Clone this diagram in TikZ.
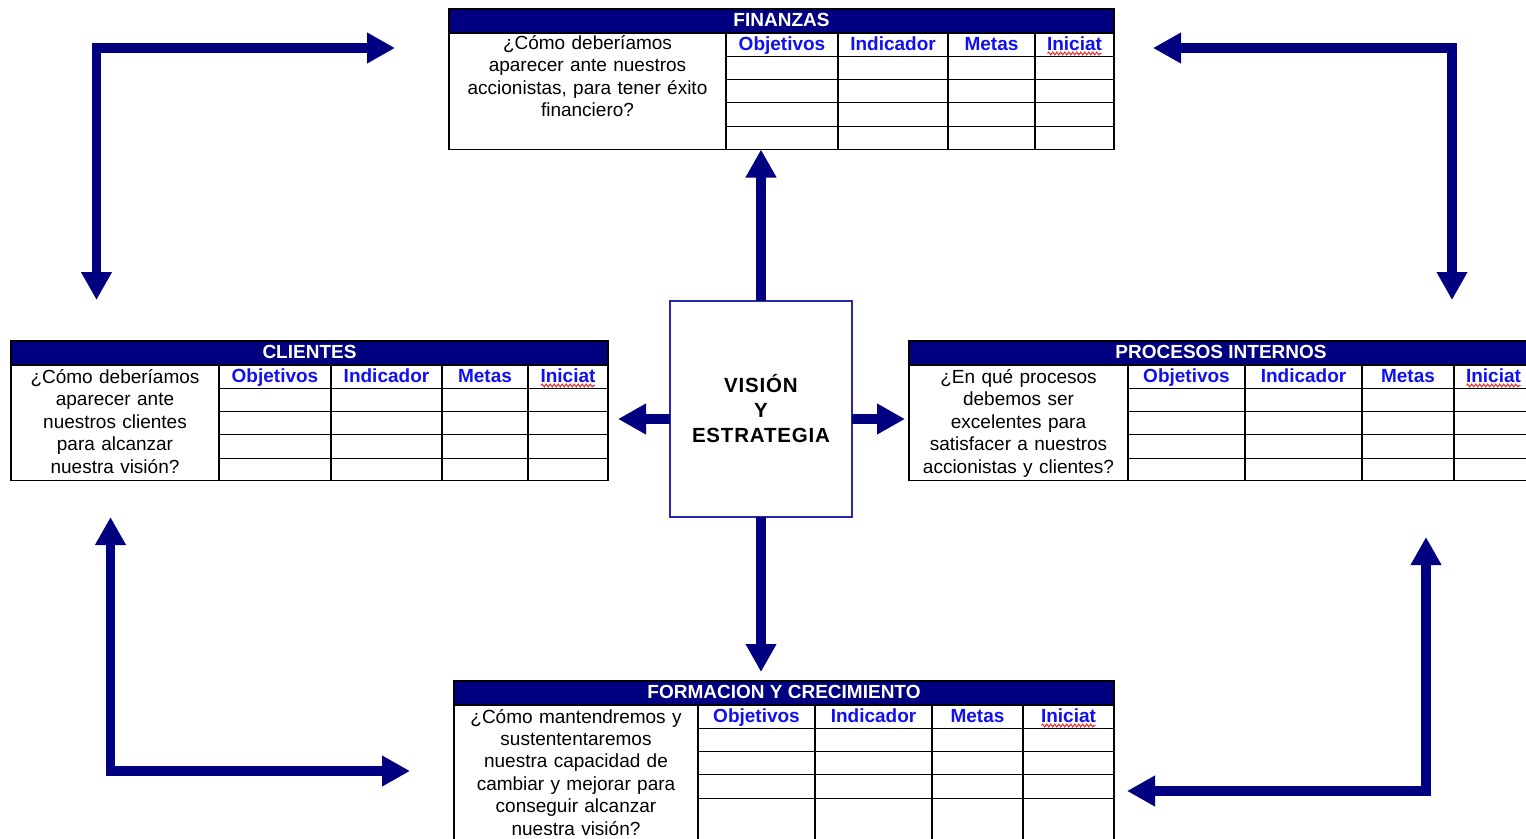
\documentclass[tikz,border=0pt]{standalone}
\usepackage{fontspec}
\setmainfont{Liberation Sans}
\usetikzlibrary{arrows.meta,decorations.pathmorphing}

\definecolor{navy}{RGB}{0,0,128}
\definecolor{headblue}{RGB}{16,16,240}
\definecolor{boxblue}{RGB}{40,40,170}
\definecolor{spellred}{RGB}{230,40,40}

\tikzset{
  tableframe/.style={draw=black, line width=1.1pt, fill=white, inner sep=0pt, outer sep=0pt},
  titlebar/.style={draw=black, line width=1.1pt, fill=navy, inner sep=0pt, outer sep=0pt, minimum height=24},
  grid line/.style={black, line width=1.1pt},
  headtext/.style={anchor=base, inner sep=0pt, text=headblue, font=\fontsize{19}{22}\selectfont\bfseries},
  titletext/.style={anchor=base, inner sep=0pt, text=white, font=\fontsize{19}{22}\selectfont\bfseries},
  bodytext/.style={anchor=base, inner sep=0pt, align=center, font=\fontsize{19}{22.4}\selectfont},
  spell/.style={spellred, line width=1pt, decorate, decoration={snake, amplitude=1.4pt, segment length=4pt}},
  visbox/.style={draw=boxblue, line width=1.3pt, fill=white, inner sep=0pt, outer sep=0pt,
    minimum width=182, minimum height=216, align=center,
    font=\fontsize{20.5}{25}\selectfont\bfseries\addfontfeature{LetterSpace=4}},
  big arrow/.style={navy, line width=9.5pt, -{Triangle[length=28pt,width=29pt]}},
  corner arrow/.style={big arrow, line cap=rect},
}

% #1 name, #2 left, #3 right, #4 top of title bar, #5 bottom,
% #6 text column edge, #7-#9 inner column edges
\newcommand\scoretable[9]{%
  \node[tableframe, minimum width={(#3)-(#2)}, minimum height={(#5)-(#4)}, anchor=north west] (#1) at (#2,#4) {};
  \node[titlebar, minimum width={(#3)-(#2)}, anchor=north west] (#1-title) at (#2,#4) {};
  \draw[grid line] (#6,#4+24) -- (#6,#5);
  \foreach \c in {#7,#8,#9} \draw[grid line] (\c,#4+24) -- (\c,#5);
  \foreach \r in {0,...,3} \draw[grid line] (#6,#4+47.3+\r*23.3) -- (#3,#4+47.3+\r*23.3);
  \node[headtext] (#1-h1) at ({(#6+#7)/2},#4+41) {Objetivos};
  \node[headtext] (#1-h2) at ({(#7+#8)/2},#4+41) {Indicador};
  \node[headtext] (#1-h3) at ({(#8+#9)/2},#4+41) {Metas};
  \node[headtext] (#1-h4) at ({(#9+#3)/2},#4+41) {Iniciat};
  \draw[spell] ([xshift=-27pt,yshift=-3.5pt]#1-h4.base) -- ([xshift=27pt,yshift=-3.5pt]#1-h4.base);
}

\begin{document}
\begin{tikzpicture}[x=1pt,y=-1pt]
\useasboundingbox (0,0) rectangle (1526,838);
\clip (0,0) rectangle (1526,838);
\fill[white] (0,0) rectangle (1526,838);

% the four perspective tables
\scoretable{fin}{449}{1114}{9}{149.5}{726}{838}{948}{1035}
\node[titletext] (fin-name) at ([yshift=7pt]fin-title.south) {FINANZAS};
\node[bodytext, text width=270] (fin-q) at (587.5,49.5)
  {¿Cómo deberíamos\\aparecer ante nuestros\\accionistas, para tener éxito\\financiero?};

\scoretable{cli}{11}{608}{341}{480.5}{219}{331}{442}{528}
\node[titletext] (cli-name) at ([yshift=7pt]cli-title.south) {CLIENTES};
\node[bodytext, text width=204] (cli-q) at (115,383.5)
  {¿Cómo deberíamos\\aparecer ante\\nuestros clientes\\para alcanzar\\nuestra visión?};

\scoretable{proc}{909}{1533}{341}{480.5}{1128}{1245}{1362}{1454}
\node[titletext] (proc-name) at ([yshift=7pt]proc-title.south) {PROCESOS INTERNOS};
\node[bodytext, text width=215] (proc-q) at (1018.5,383.5)
  {¿En qué procesos\\debemos ser\\excelentes para\\satisfacer a nuestros\\accionistas y clientes?};

\scoretable{form}{454}{1114}{681}{860}{698}{815}{932}{1023}
\node[titletext] (form-name) at ([yshift=7pt]form-title.south) {FORMACION Y CRECIMIENTO};
\node[bodytext, text width=240] (form-q) at (576,723)
  {¿Cómo mantendremos y\\sustententaremos\\nuestra capacidad de\\cambiar y mejorar para\\conseguir alcanzar\\nuestra visión?};

% vision and strategy at the centre
\node[visbox] (vis) at (761,409) {VISIÓN\\Y\\ESTRATEGIA};

\draw[big arrow] (vis.north) -- (vis.north |- fin.south);
\draw[big arrow, shorten >=9pt] (vis.south) -- (vis.south |- form.north);
\draw[big arrow, shorten >=10pt] ([yshift=-10pt]vis.west) -- ([yshift=-10pt]vis.west -| cli.east);
\draw[big arrow, shorten >=4pt] ([yshift=-10pt]vis.east) -- ([yshift=-10pt]vis.east -| proc.west);

% corner arrows linking the perspectives
\coordinate (tl) at (96.5,48);   \coordinate (tl-r) at (395,48);   \coordinate (tl-d) at (96.5,300);
\coordinate (tr) at (1452,48);   \coordinate (tr-l) at (1153,48);  \coordinate (tr-d) at (1452,300);
\coordinate (bl) at (110.5,771); \coordinate (bl-u) at (110.5,517); \coordinate (bl-r) at (410,771);
\coordinate (br) at (1426,791);  \coordinate (br-u) at (1426,537); \coordinate (br-l) at (1127,791);

\draw[corner arrow] (tl) -- (tl-r);
\draw[corner arrow] (tl) -- (tl-d);
\draw[corner arrow] (tr) -- (tr-l);
\draw[corner arrow] (tr) -- (tr-d);
\draw[corner arrow] (bl) -- (bl-u);
\draw[corner arrow] (bl) -- (bl-r);
\draw[corner arrow] (br) -- (br-u);
\draw[corner arrow] (br) -- (br-l);
\end{tikzpicture}
\end{document}
